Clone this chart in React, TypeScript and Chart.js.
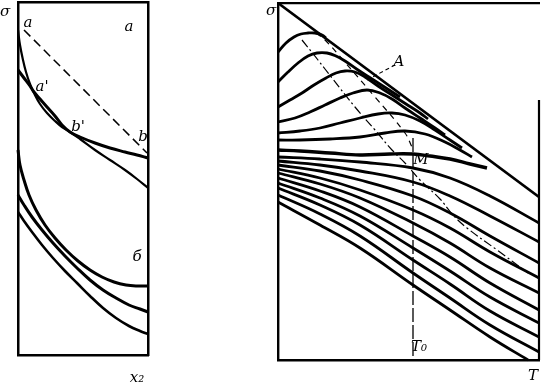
import React, { useEffect, useRef } from "react";
import { Chart, registerables } from "chart.js";
Chart.register(...registerables);

type P = [number, number];

// ---------- Left panel (x2 vs sigma), arbitrary units ----------
const leftCurveA: P[] = [[0,325],[2,310],[5,295],[8,283],[12,271],[16,262],[22,251],[29,242],[37,234],[44,228],[52,223],[62,216],[77,205],[92,195],[107,185],[119,176],[130,167]];
const leftCurveB: P[] = [[0,285],[6,277],[12,269],[16,263],[22,256],[29,248],[37,239],[44,230],[52,223],[62,218],[77,212],[92,207],[107,203],[119,200],[130,197]];
const leftTangentAB: P[] = [[6,325],[129,202]];
const leftCurveD1: P[] = [[0,205],[2,190],[6,175],[11,160],[18,145],[27,130],[37,117],[48,105],[60,94],[72,85],[84,78],[96,73],[108,70],[119,69],[130,69]];
const leftCurveD2: P[] = [[0,160],[6,150],[14,138],[24,125],[35,112],[47,99],[59,87],[72,75],[85,65],[98,57],[111,50],[122,46],[130,43]];
const leftCurveD3: P[] = [[0,143],[6,134],[14,123],[24,110],[35,97],[47,84],[59,72],[72,59],[85,47],[98,37],[111,29],[122,24],[130,21]];
const leftLabels = [
  { text: "σ", x: -13, y: 343 },
  { text: "a", x: 10, y: 332 },
  { text: "a", x: 111, y: 328 },
  { text: "a'", x: 24, y: 268 },
  { text: "b'", x: 60, y: 228 },
  { text: "b", x: 125, y: 218 },
  { text: "б", x: 119, y: 98 },
  { text: "x₂", x: 119, y: -23 },
];

// ---------- Right panel (T vs sigma), arbitrary units ----------
const envelope: P[] = [[0,357],[261,163]];
const hump1: P[] = [[0,308],[8,317],[16,323],[23,326],[30,327],[37,327],[44,325],[48,322]];
const hump2: P[] = [[0,278],[10,288],[20,297],[30,304],[39,307],[49,307],[58,304],[67,299],[80,290],[94,281],[108,272],[122,263]];
const hump3: P[] = [[0,253],[12,260],[24,267],[36,275],[48,282],[58,287],[67,289],[77,288],[87,283],[100,274],[114,265],[128,256],[142,247],[150,241]];
const hump4: P[] = [[0,238],[17,242],[32,248],[47,255],[62,262],[75,267],[89,270],[102,267],[114,261],[127,252],[142,242],[157,232],[167,225]];
const hump5: P[] = [[0,227],[22,229],[42,232],[62,237],[82,242],[100,246],[114,247],[127,245],[142,239],[157,230],[172,220],[184,212]];
const hump6: P[] = [[0,220],[22,220],[52,221],[82,223],[107,227],[127,229],[147,226],[167,218],[182,210],[194,203]];
const criticalCurve: P[] = [[0,210],[22,209],[52,207],[82,205],[112,206],[135,206],[152,204],[172,201],[192,196],[209,192]];
const lowerT: number[] = [0, 42, 82, 135, 172, 212, 261];
const lower1: number[] = [203, 201, 198, 192, 182, 164, 137];
const lower2: number[] = [199, 195, 189, 178, 164, 144, 118];
const lower3: number[] = [195, 189, 180, 164, 147, 124, 97];
const lower4: number[] = [191, 182, 170, 150, 132, 108, 82];
const lower5: number[] = [187, 176, 162, 137, 117, 92, 67];
const lower6: number[] = [182, 169, 153, 124, 103, 77, 50];
const lower7: number[] = [177, 162, 144, 112, 89, 63, 37];
const lower8: number[] = [172, 155, 135, 100, 76, 49, 23];
const lower9: number[] = [165, 146, 124, 87, 62, 35, 8];
const lower10: P[] = [[0,158],[42,135],[82,112],[135,75],[172,50],[212,23],[250,0]];
const maximaLocus: P[] = [[24,320],[40,300],[54,282],[77,253],[97,230],[114,210],[127,197],[142,180],[162,161],[175,145],[189,132],[219,110],[250,87]];
const secondLocus: P[] = [[38,327],[47,320],[65,300],[97,263],[127,227],[134,213]];
const leaderA: P[] = [[89,280],[117,295]];
const lineT0: P[] = [[135,222],[135,0]];
const rightBorderPart: P[] = [[261,260],[261,0]];
const rightLabels = [
  { text: "σ", x: -7, y: 349 },
  { text: "A", x: 121, y: 298 },
  { text: "M", x: 143, y: 200 },
  { text: "T₀", x: 141, y: 13 },
  { text: "T", x: 255, y: -16 },
];

const FONT = 'italic 15px "DejaVu Serif"';

const labelPlugin = {
  id: "textLabels",
  afterDraw(chart: any, _a: any, opts: any) {
    const { ctx, scales } = chart;
    ctx.save();
    ctx.fillStyle = "#000";
    ctx.textAlign = "center";
    ctx.textBaseline = "middle";
    ctx.font = FONT;
    for (const it of opts.items || []) {
      ctx.fillText(it.text, scales.x.getPixelForValue(it.x), scales.y.getPixelForValue(it.y));
    }
    ctx.restore();
  },
};

const zipT = (ys: number[]): P[] => ys.map((y, i) => [lowerT[i], y]);

const ds = (pts: P[], width = 2.6, dash: number[] = [], smooth = true) => ({
  data: pts.map(([x, y]) => ({ x, y })),
  borderColor: "#000",
  borderWidth: width,
  borderDash: dash,
  pointRadius: 0,
  fill: false,
  tension: smooth ? 0.4 : 0,
  cubicInterpolationMode: "default",
  clip: 3,
});

const axis = (pos: string, min: number, max: number, show = true, w = 2.5) => ({
  type: "linear",
  position: pos,
  min,
  max,
  display: true,
  ticks: { display: false },
  grid: { display: false, drawTicks: false },
  border: { display: show, color: "#000", width: w },
});

function makeLeft(canvas: HTMLCanvasElement) {
  return new Chart(canvas, {
    type: "line",
    data: {
      datasets: [
        ds(leftCurveA, 2.2),
        ds(leftCurveB, 3),
        ds(leftTangentAB, 1.5, [9, 5], false),
        ds(leftCurveD1, 3),
        ds(leftCurveD2, 3),
        ds(leftCurveD3, 2.6),
      ] as any,
    },
    options: {
      responsive: false,
      animation: false,
      events: [],
      layout: { padding: { left: 18, top: 2, right: 393, bottom: 31 } },
      plugins: { legend: { display: false }, tooltip: { enabled: false }, textLabels: { items: leftLabels } } as any,
      scales: {
        x: axis("bottom", 0, 130),
        x2: axis("top", 0, 130),
        y: axis("left", 0, 353),
        y2: axis("right", 0, 353),
      } as any,
    },
    plugins: [labelPlugin],
  });
}

function makeRight(canvas: HTMLCanvasElement) {
  const thick = 2.8;
  return new Chart(canvas, {
    type: "line",
    data: {
      datasets: [
        ds(envelope, thick, [], false),
        ds(hump1, thick),
        ds(hump2, thick),
        ds(hump3, thick),
        ds(hump4, thick),
        ds(hump5, thick),
        ds(hump6, thick),
        ds(criticalCurve, 3.4),
        ds(zipT(lower1), thick),
        ds(zipT(lower2), thick),
        ds(zipT(lower3), thick),
        ds(zipT(lower4), thick),
        ds(zipT(lower5), thick),
        ds(zipT(lower6), thick),
        ds(zipT(lower7), thick),
        ds(zipT(lower8), thick),
        ds(zipT(lower9), thick),
        ds(lower10, thick),
        ds(maximaLocus, 1.2, [9, 3, 2, 3]),
        ds(secondLocus, 1.2, [6, 5]),
        ds(leaderA, 1.1, [4, 3], false),
        ds(lineT0, 1.3, [14, 3], false),
        ds(rightBorderPart, 2.2, [], false),
      ] as any,
    },
    options: {
      responsive: false,
      animation: false,
      events: [],
      layout: { padding: { left: 278, top: 3, right: 2, bottom: 26 } },
      plugins: { legend: { display: false }, tooltip: { enabled: false }, textLabels: { items: rightLabels } } as any,
      scales: {
        x: axis("bottom", 0, 261, true, 2.4),
        x2: axis("top", 0, 261, true, 2.2),
        y: axis("left", 0, 357, true, 2.4),
      } as any,
    },
    plugins: [labelPlugin],
  });
}

export default function App() {
  const leftRef = useRef<HTMLCanvasElement>(null);
  const rightRef = useRef<HTMLCanvasElement>(null);
  useEffect(() => {
    const a = makeLeft(leftRef.current!);
    const b = makeRight(rightRef.current!);
    return () => {
      a.destroy();
      b.destroy();
    };
  }, []);
  const style: React.CSSProperties = { position: "fixed", left: 0, top: 0, width: 541, height: 386 };
  return (
    <div style={{ position: "fixed", left: 0, top: 0, width: 541, height: 386, background: "#fff" }}>
      <canvas ref={leftRef} width={541} height={386} style={style} />
      <canvas ref={rightRef} width={541} height={386} style={style} />
    </div>
  );
}
